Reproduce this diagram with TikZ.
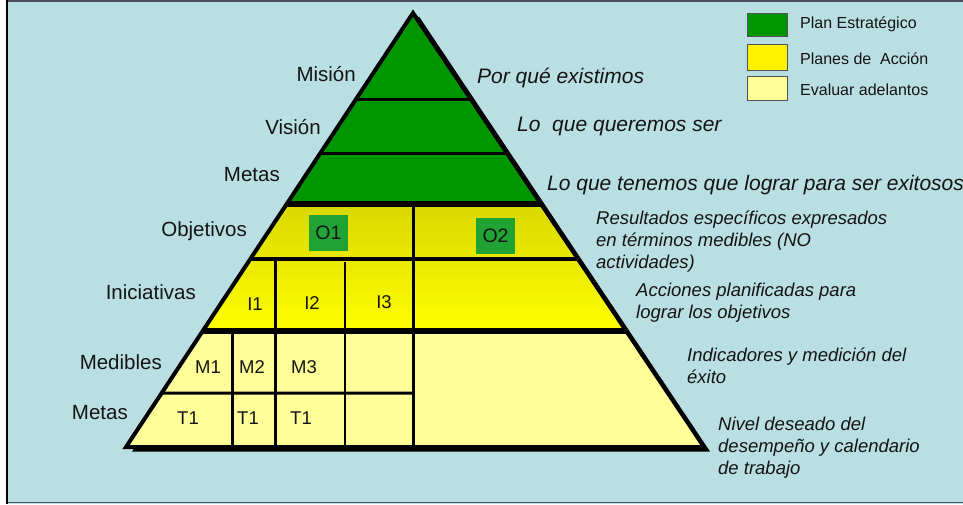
\documentclass[tikz,border=0pt]{standalone}
\usepackage{fontspec}
\setmainfont{Liberation Sans}
\usetikzlibrary{calc}
\definecolor{bg}{RGB}{186,223,227}
\definecolor{pgreen}{RGB}{0,150,0}
\definecolor{ogreen}{RGB}{32,163,52}
\definecolor{ltyel}{RGB}{255,255,153}
\definecolor{dkyel}{RGB}{216,216,0}
\definecolor{txt}{RGB}{20,20,20}
\definecolor{frame}{RGB}{80,80,90}
\begin{document}
\begin{tikzpicture}[x=1pt,y=-1pt,
  big/.style={font=\fontsize{20.5}{22}\selectfont, inner sep=0, text=txt, anchor=base east},
  desc/.style={font=\fontsize{18.5}{22}\selectfont\itshape, inner sep=0, align=left, anchor=base west, text=txt},
  headdesc/.style={font=\fontsize{21}{22}\selectfont\itshape, inner sep=0, anchor=base west, text=txt},
  cell/.style={font=\fontsize{18.5}{20}\selectfont, inner sep=0, anchor=base, text=txt},
  objbox/.style={font=\fontsize{19.5}{20}\selectfont, inner sep=0, fill=ogreen, minimum width=39, minimum height=36, text=txt},
  leg/.style={font=\fontsize{16}{17}\selectfont, inner sep=0, anchor=base west, text=txt},
  legbox/.style={draw=frame, line width=0.8},
  divline/.style={line width=3, black},
  bandline/.style={line width=6.5, black}
]
\useasboundingbox (0,0) rectangle (963,504);
\fill[white] (0,0) rectangle (963,504);
\fill[bg] (7,0) rectangle (963,504);
\draw[frame, line width=1.6] (7,0.8) -- (963,0.8);
\draw[frame, line width=1.6] (7,502.5) -- (963,502.5);
\draw[black, line width=2.2] (7,0) -- (7,504);

% pyramid geometry
\coordinate (A) at (413,13);
\coordinate (L) at (126,447);
\coordinate (R) at (704,447);
\foreach \n/\t in {1/0.1982,2/0.3226,3/0.4401,4/0.5668,5/0.7327,6/0.8756}{
  \coordinate (L\n) at ($(A)!\t!(L)$);
  \coordinate (R\n) at ($(A)!\t!(R)$);
}

% shadow
\fill[black] ($(A)+(6,3.5)$) -- ($(L)+(6,4.5)$) -- ($(R)+(6,4.5)$) -- cycle;

% fills
\fill[pgreen] (A) -- (L3) -- (R3) -- cycle;
\shade[top color=dkyel, bottom color=yellow] (L3) -- (L5) -- (R5) -- (R3) -- cycle;
\fill[ltyel] (L5) -- (L) -- (R) -- (R5) -- cycle;

% inner lines
\draw[divline] (L1) -- (R1);
\draw[divline] (L2) -- (R2);
\draw[divline, line width=3.5] (L4) -- (R4);
\draw[divline] (413,204) -- (413,447);
\draw[divline] (275,259) -- (275,447);
\draw[divline, line width=2.6] (345,262) -- (345,447);
\draw[divline] (232,331) -- (232,447);
\draw[divline] (L6) -- (413,393);
\draw[bandline] (L3) -- (R3);
\draw[bandline] (L5) -- (R5);

% outline
\draw[black, line width=4, line join=miter] (A) -- (L) -- (R) -- cycle;

% objective boxes
\node[objbox] (o1) at (328.5,233) {O1};
\node[objbox] (o2) at (495.5,235.5) {O2};

% cell labels
\node[cell] (i1) at (255,310) {I1};
\node[cell] (i2) at (312,309) {I2};
\node[cell] (i3) at (384,308) {I3};
\node[cell] (m1) at (208,373) {M1};
\node[cell] (m2) at (252,373) {M2};
\node[cell] (m3) at (304,373) {M3};
\node[cell] (t1) at (188,424) {T1};
\node[cell] (t2) at (248,424) {T1};
\node[cell] (t3) at (301,424) {T1};

% left labels
\node[big] (lmis) at (356,81) {Misión};
\node[big] (lvis) at (321,134) {Visión};
\node[big] (lmet) at (280,181) {Metas};
\node[big] (lobj) at (247,236) {Objetivos};
\node[big] (lini) at (196,299) {Iniciativas};
\node[big] (lmed) at (162,369) {Medibles};
\node[big] (lmet2) at (128,419) {Metas};

% right descriptions (base = baseline of last line)
\node[headdesc] (dmis) at (477,83) {Por qué existimos};
\node[headdesc] (dvis) at (517,131) {Lo\ \ que queremos ser};
\node[headdesc] (dmet) at (547,190) {Lo que tenemos que lograr para ser exitosos};
\node[desc] (dobj) at (596,268) {Resultados específicos expresados\\en términos medibles (NO\\actividades)};
\node[desc] (dini) at (636,318) {Acciones planificadas para\\lograr los objetivos};
\node[desc] (dmed) at (687,383) {Indicadores y medición del\\éxito};
\node[desc] (dmet2) at (718,474) {Nivel deseado del\\desempeño y calendario\\de trabajo};

% legend
\draw[legbox, fill=pgreen] (747,13) rectangle (787,36);
\draw[legbox, fill=yellow] (747,44) rectangle (787,70);
\draw[legbox, fill=ltyel] (747,76) rectangle (787,100);
\node[leg] (g1) at (800,28) {Plan Estratégico};
\node[leg] (g2) at (800,64) {Planes de\ \ Acción};
\node[leg] (g3) at (800,95) {Evaluar adelantos};
\end{tikzpicture}
\end{document}
